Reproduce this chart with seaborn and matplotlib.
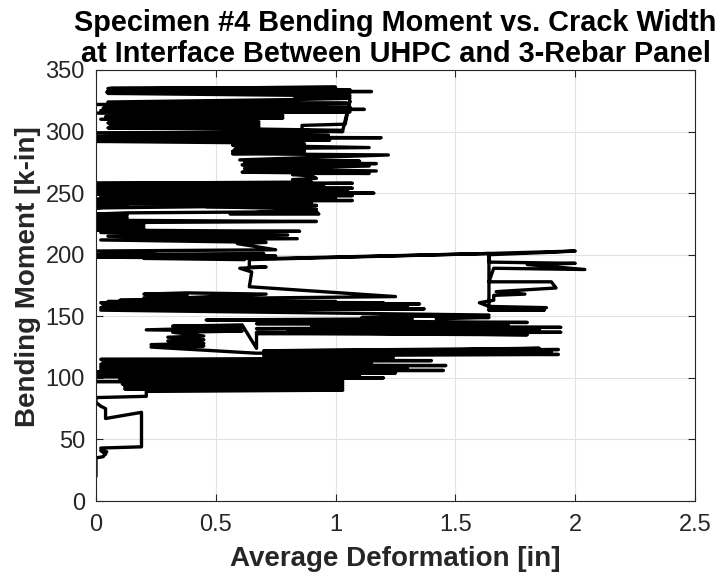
import matplotlib
matplotlib.use("Agg")
import matplotlib.pyplot as plt
import pandas as pd
import seaborn as sns

# ── DATA: average deformation [in] vs bending moment [k-in], in path order ──
# start-up + first dense band (0-117 k-in)
defo_low = [0.0, 0.0, 0.03, 0.045, 0.02, 0.04, 0.02, 0.19, 0.19, 0.04, 0.04, 0.02, 0.0, 0.0, 0.21, 0.21,
            1.03, 0.12, 1.03, 0.12, 1.03, 0.11, 1.03, 0.0, 1.03, 0.1,
            1.2, 0.0, 1.1, 0.01, 1.25, 0.0, 1.45, 0.02, 1.3, 0.02, 1.46, 0.02, 1.15, 0.03, 1.4, 0.02, 1.24]
mom_low = [20, 35, 36, 40, 41, 38, 43, 44, 72, 67, 75, 77, 80, 84, 85, 89,
           90, 91, 92, 93, 94, 95, 96, 97, 98, 99,
           100, 101, 102, 103, 104, 105, 106, 107, 108, 109, 110, 111, 112, 113, 114, 115, 116]

# 117-163 k-in
defo_mid = [1.24, 0.7, 1.93, 0.9, 1.9, 1.17, 1.93, 0.7, 1.85, 0.67,
            0.23, 0.45, 0.23, 0.45, 0.3, 0.45, 0.3, 0.45, 0.32, 0.61, 0.21, 0.61, 0.32, 0.61, 0.67, 0.67,
            1.8, 0.67, 1.94, 0.8, 1.85, 0.67, 1.94, 0.9, 1.72, 0.67, 1.8,
            0.46, 1.32, 1.11, 1.32, 1.42, 1.64, 1.42, 1.64,
            0.02, 1.37, 0.02, 1.3, 0.03, 1.35, 0.02, 1.2, 0.05, 1.0, 0.1]
mom_mid = [118, 118, 119, 120, 121, 122, 123, 122, 124, 120,
           125, 126, 127, 128, 130, 131, 133, 134, 137, 138, 139, 141, 142, 143, 124, 137,
           135, 136, 137, 138, 139, 140, 141, 142, 143, 144, 145,
           147, 148, 149, 150, 150, 149, 148, 151,
           155, 156, 157, 158, 159, 160, 161, 161, 162, 162, 163]

# V-shaped swing and climb at ~0.64 in
defo_v = [0.38, 0.2, 0.38, 0.2, 0.38, 0.71, 0.25, 1.25, 0.64, 0.65, 0.6, 0.71, 0.64, 0.64]
mom_v = [164, 165, 167, 168, 169, 168, 164, 166, 174, 186, 189, 190, 190, 196]

# excursion to ~2 in
defo_jump = [1.64, 2.0, 1.9, 1.64, 1.64, 2.0, 1.8, 2.04, 1.66, 1.64, 1.9, 1.92, 1.67, 1.79, 1.66, 1.66,
             1.6, 1.64, 1.88, 1.64, 1.87, 1.64, 1.64, 0.75]
mom_jump = [201, 203, 202, 200, 194, 193, 192, 188, 189, 178, 178, 173, 170, 168, 167, 163,
            161, 158, 157, 155, 155, 155, 201, 197]

# 196-336 k-in
defo_top = [0.0, 0.75, 0.0, 0.7, 0.2, 0.62, 0.0, 0.75,
            0.59, 0.71, 0.02, 0.84, 0.05, 0.8, 0.02, 0.85, 0.0,
            0.2, 0.0, 0.2, 0.0, 0.2, 0.0, 0.92, 0.0, 0.13, 0.0, 0.13, 0.0, 0.13,
            0.92, 0.93, 0.56, 0.92, 0.46, 0.92, 0.0, 0.13, 0.0, 0.9, 0.0,
            1.07, 0.0, 1.0, 0.02, 1.07, 0.0, 1.16, 0.0, 1.05, 0.01, 1.07, 0.0, 0.95, 0.02, 1.07, 0.0, 0.9,
            0.82, 0.92, 0.9, 0.82, 0.85,
            1.14, 0.61, 1.17, 0.62, 1.14, 0.61, 1.17, 0.62, 1.1, 0.6,
            1.22, 0.57, 0.87, 0.57, 0.87, 0.58, 1.14, 0.57, 0.87, 0.57,
            0.0, 0.975, 0.0, 1.19, 0.0, 0.97,
            0.0, 1.03, 0.86, 0.86, 1.04, 1.06, 1.03, 0.68, 0.05, 0.68, 0.06, 0.68, 0.05, 0.68,
            0.02, 0.78, 0.04, 0.78, 0.0,
            1.06, 0.02, 1.12, 0.03, 1.06, 0.0, 1.05, 0.05,
            0.83, 1.06, 0.83, 1.06, 0.05, 1.06, 0.045, 1.15, 0.05, 1.06, 0.06, 1.0, 0.05]
mom_top = [198, 199, 200, 201, 197, 196, 203, 204,
           209, 210, 212, 213, 215, 216, 218, 219, 220,
           221, 222, 223, 224, 225, 226, 227, 228, 230, 231, 232, 233, 234,
           235, 233, 233, 237, 239, 240, 238, 240, 241, 242, 243,
           244, 245, 246, 247, 248, 249, 250, 251, 252, 253, 254, 255, 256, 257, 258, 258, 259,
           261, 262, 264, 265, 266,
           266, 267, 268, 270, 272, 273, 274, 275, 276, 277,
           281, 282, 283, 284, 285, 286, 287, 289, 290, 291,
           292, 293, 294, 295, 296, 297,
           299, 300, 301, 305, 306, 325, 301, 302, 303, 304, 305, 306, 307, 308,
           310, 311, 312, 313, 315,
           316, 317, 318, 319, 320, 322, 323, 324,
           326, 327, 328, 329, 331, 331.5, 332, 332.5, 333, 334, 335, 336, 335]

xtick_vals = [0, 0.5, 1, 1.5, 2, 2.5]
xtick_labels = ['0', '0.5', '1', '1.5', '2', '2.5']
ytick_vals = [0, 50, 100, 150, 200, 250, 300, 350]

df = pd.DataFrame({
    'deformation': defo_low + defo_mid + defo_v + defo_jump + defo_top,
    'moment': mom_low + mom_mid + mom_v + mom_jump + mom_top,
})

# ── STYLE ──────────────────────────────────────────────────────────────
sns.set_theme(style='whitegrid')
plt.rcParams['font.family'] = ['Liberation Sans', 'DejaVu Sans']
axis_col = '#262626'

fig = plt.figure(figsize=(7.2, 5.77), dpi=100)
ax = fig.add_axes([0.1333, 0.1317, 0.8320, 0.7470])

sns.lineplot(data=df, x='deformation', y='moment', sort=False, estimator=None,
             color='black', linewidth=2.4, ax=ax)

ax.set_xlim(0, 2.5)
ax.set_ylim(0, 350)
ax.set_xticks(xtick_vals)
ax.set_xticklabels(xtick_labels)
ax.set_yticks(ytick_vals)

ax.grid(True, color='#e2e2e2', linewidth=0.8)
for side in ax.spines.values():
    side.set_color(axis_col)
    side.set_linewidth(0.8)
ax.tick_params(direction='in', length=5, width=0.8, color=axis_col,
               labelsize=17, labelcolor=axis_col, top=True, right=True,
               bottom=True, left=True, labeltop=False, labelright=False)
ax.tick_params(axis='x', pad=9)
ax.tick_params(axis='y', pad=8)

ax.set_xlabel('Average Deformation [in]', fontsize=20, fontweight='bold', color=axis_col)
ax.set_ylabel('Bending Moment [k-in]', fontsize=20, fontweight='bold', color=axis_col)
ax.xaxis.set_label_coords(0.5, -0.105)
ax.yaxis.set_label_coords(-0.092, 0.52)
ax.set_title('Specimen #4 Bending Moment vs. Crack Width\nat Interface Between UHPC and 3-Rebar Panel',
             fontsize=20.8, fontweight='bold', color='black', pad=6, linespacing=1.12)

fig.savefig('out.png', dpi=100)
